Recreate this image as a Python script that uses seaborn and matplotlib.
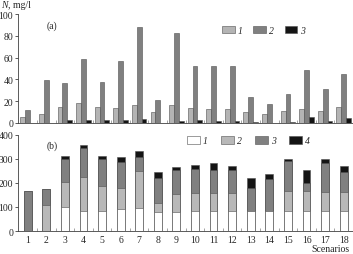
import numpy as np
import pandas as pd
import matplotlib
matplotlib.use("Agg")
import matplotlib.pyplot as plt
import seaborn as sns
from matplotlib.patches import Patch

sns.set_style("ticks")
plt.rcParams['font.family'] = ['Liberation Serif', 'DejaVu Serif']
plt.rcParams['font.size'] = 7

scenarios = [str(i) for i in range(1, 19)]

# Panel (a): N, mg/l
a1 = [5, 8, 14.7, 18, 14.7, 13.5, 16.5, 10, 16.5, 13.8, 12.8, 12.8, 9.8, 8.3, 10.7, 12.8, 10.7, 14.4]
a2 = [12, 39.5, 37, 59, 37.6, 57, 88.5, 21.5, 82.5, 52, 52, 52, 24, 17.4, 27, 48.6, 31, 44.6]
a3 = [0, 0, 2.8, 3, 2.5, 2.5, 3.5, 0, 2, 2.7, 1.5, 1.5, 1, 0.3, 1, 5.5, 2, 4.6]

# Panel (b): stacked components
b1 = [0, 0, 98, 85, 83, 90, 95, 78, 80, 84, 84, 84, 84, 84, 84, 84, 84, 84]
b2 = [0, 110, 107, 140, 102, 90, 155, 40, 75, 72, 72, 72, 0, 0, 82, 84, 76, 76]
b3 = [165, 63, 95, 121, 115, 105, 59, 102, 98, 101, 99, 99, 95, 132, 123, 31, 122, 86]
b4 = [0, 0, 12, 10, 13, 22, 23, 23, 11, 17, 27, 16, 41, 22, 12, 54, 17, 25]

a_labels = ['1', '2', '3']
b_labels = ['1', '2', '3', '4']
a_colors = ['#b4b4b4', '#808080', '#141414']
b_colors = ['#ffffff', '#b8b8b8', '#808080', '#141414']

fig = plt.figure(figsize=(3.53, 2.55), dpi=100)
L = 0.052
ax1 = fig.add_axes([L, 0.514, 1 - L, 0.427])
ax2 = fig.add_axes([L, 0.090, 1 - L, 0.378])

# Panel (a)
dfa = pd.DataFrame({
    'Scenario': scenarios * 3,
    'Series': sum([[l] * 18 for l in a_labels], []),
    'Value': a1 + a2 + a3,
})
sns.barplot(data=dfa, x='Scenario', y='Value', hue='Series', palette=a_colors,
            width=0.78, edgecolor='#505050', linewidth=0.4, ax=ax1, legend=False,
            errorbar=None)
ax1.set_ylim(0, 100)
ax1.set_xlim(-0.5, 17.5)
ax1.set_yticks(range(0, 101, 20))
ax1.set_xticks([])
ax1.set_xlabel('')
ax1.set_ylabel('')

# Panel (b): stacked
series_b = [b1, b2, b3, b4]
cum = np.cumsum(np.array(series_b), axis=0)
for i in range(3, -1, -1):
    sns.barplot(x=scenarios, y=cum[i], color=b_colors[i], width=0.42,
                edgecolor='#505050', linewidth=0.4, ax=ax2, errorbar=None)
ax2.set_ylim(0, 400)
ax2.set_xlim(-0.5, 17.5)
ax2.set_yticks(range(0, 401, 100))
ax2.set_xlabel('')
ax2.set_ylabel('')

for ax in (ax1, ax2):
    sns.despine(ax=ax, top=True, right=True)
    for s in ('left', 'bottom'):
        ax.spines[s].set_linewidth(0.6)
        ax.spines[s].set_color('#404040')
    ax.tick_params(axis='y', length=2.5, width=0.6, pad=1.2, labelsize=7, color='#404040')
    ax.tick_params(axis='x', length=0, pad=3, labelsize=7)
    ax.set_xticks(np.arange(0.5, 17.5, 1), minor=True)
    ax.tick_params(axis='x', which='minor', direction='in', length=2, width=0.5, color='#808080')
    ax.set_facecolor('white')

# Legends
ha = [Patch(facecolor=c, edgecolor='#505050', linewidth=0.4) for c in a_colors]
ax1.legend(ha, a_labels, loc='center left', bbox_to_anchor=(0.595, 0.85), ncol=3,
           frameon=False, handlelength=1.3, handleheight=0.8, handletextpad=0.3,
           columnspacing=1.1, borderpad=0, prop={'style': 'italic', 'size': 7})
hb = [Patch(facecolor=c, edgecolor='#505050', linewidth=0.4) for c in b_colors]
ax2.legend(hb, b_labels, loc='center left', bbox_to_anchor=(0.49, 0.935), ncol=4,
           frameon=False, handlelength=1.3, handleheight=0.8, handletextpad=0.3,
           columnspacing=1.4, borderpad=0, prop={'style': 'italic', 'size': 7})

ax1.text(1.3, 90, '(a)', fontsize=7, ha='center', va='center')
ax2.text(1.3, 355, '(b)', fontsize=7, ha='center', va='center')

fig.text(0.003, 0.968, 'N', fontsize=7, ha='left', va='baseline', style='italic')
fig.text(0.024, 0.968, ', mg/l', fontsize=7, ha='left', va='baseline')
fig.text(0.99, 0.02, 'Scenarios', fontsize=7, ha='right', va='center')

fig.savefig('out.png', dpi=100, facecolor='white')
